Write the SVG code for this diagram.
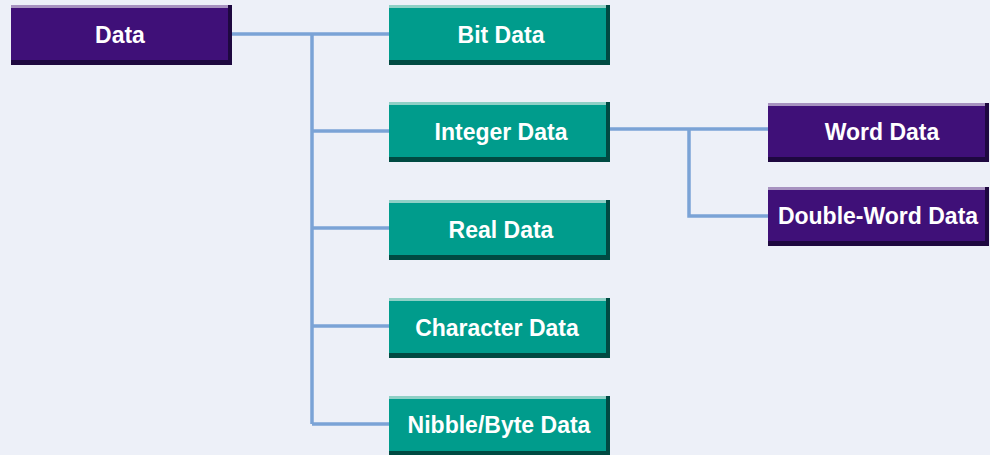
<svg xmlns="http://www.w3.org/2000/svg" width="990" height="455" viewBox="0 0 990 455">
<style>
.bg{fill:#edf0f8}
.conn{fill:none;stroke:#7ba3d6;stroke-width:3.5}
.p .face{fill:#3f1078}
.p .hi{fill:#a792c0}
.p .sh{fill:#1e0840}
.t .face{fill:#009c8c}
.t .hi{fill:#8fd0c6}
.t .sh{fill:#004a42}
text{font-family:"Liberation Sans",Arial,sans-serif;font-weight:bold;font-size:23px;fill:#ffffff;text-anchor:middle;dominant-baseline:central}
</style>
<rect class="bg" x="0" y="0" width="990" height="455"/>
<g id="connectors">
<path class="conn" d="M232 34 H389 M312 34 V424 M312 131 H389 M312 228 H389 M312 326 H389 M312 424 H389"/>
<path class="conn" d="M610 129 H768 M689 129 V216 H768"/>
</g>
<g id="data" class="p">
<rect class="sh" x="11" y="5" width="221" height="60"/>
<rect class="face" x="11" y="5" width="217" height="55"/>
<rect class="hi" x="11" y="5" width="217" height="3"/>
<text x="120" y="35">Data</text>
</g>
<g id="bit" class="t">
<rect class="sh" x="389" y="5" width="221" height="60"/>
<rect class="face" x="389" y="5" width="217" height="55"/>
<rect class="hi" x="389" y="5" width="217" height="3"/>
<text x="501" y="35">Bit Data</text>
</g>
<g id="integer" class="t">
<rect class="sh" x="389" y="102" width="221" height="60"/>
<rect class="face" x="389" y="102" width="217" height="55"/>
<rect class="hi" x="389" y="102" width="217" height="3"/>
<text x="501" y="132">Integer Data</text>
</g>
<g id="real" class="t">
<rect class="sh" x="389" y="200" width="221" height="60"/>
<rect class="face" x="389" y="200" width="217" height="55"/>
<rect class="hi" x="389" y="200" width="217" height="3"/>
<text x="501" y="230">Real Data</text>
</g>
<g id="character" class="t">
<rect class="sh" x="389" y="298" width="221" height="60"/>
<rect class="face" x="389" y="298" width="217" height="55"/>
<rect class="hi" x="389" y="298" width="217" height="3"/>
<text x="497" y="328">Character Data</text>
</g>
<g id="nibble" class="t">
<rect class="sh" x="389" y="396" width="221" height="60"/>
<rect class="face" x="389" y="396" width="217" height="55"/>
<rect class="hi" x="389" y="396" width="217" height="3"/>
<text x="499" y="425">Nibble/Byte Data</text>
</g>
<g id="word" class="p">
<rect class="sh" x="768" y="103" width="221" height="59"/>
<rect class="face" x="768" y="103" width="217" height="54"/>
<rect class="hi" x="768" y="103" width="217" height="3"/>
<text x="882" y="132">Word Data</text>
</g>
<g id="doubleword" class="p">
<rect class="sh" x="768" y="187" width="221" height="59"/>
<rect class="face" x="768" y="187" width="217" height="54"/>
<rect class="hi" x="768" y="187" width="217" height="3"/>
<text x="878" y="216">Double-Word Data</text>
</g>
</svg>
